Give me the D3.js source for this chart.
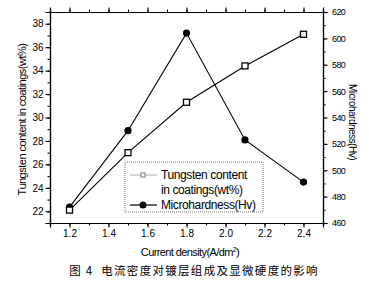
<!DOCTYPE html>
<html>
<head>
<meta charset="utf-8">
<script src="https://cdn.jsdelivr.net/npm/d3@7"></script>
<style>
  body { margin: 0; background: #fff; }
  svg text { font-family: "Liberation Sans", Arial, sans-serif; fill: #000; }
</style>
</head>
<body>
<div id="chart"></div>
<script>
// data
var currentDensity = [1.2, 1.5, 1.8, 2.1, 2.4];
var tungsten = [22.1, 27.0, 31.3, 34.4, 37.1];
var hardness = [472, 530, 604, 523, 491];

var xTicks = [1.2, 1.4, 1.6, 1.8, 2.0, 2.2, 2.4];
var leftTicks = [22, 24, 26, 28, 30, 32, 34, 36, 38];
var rightTicks = [460, 480, 500, 520, 540, 560, 580, 600, 620];

var svgWidth = 369;
var svgHeight = 281;

var margin = { top: 12, right: 46, bottom: 58, left: 50 };
var width = svgWidth - margin.left - margin.right;
var height = svgHeight - margin.top - margin.bottom;

var svg = d3.select("#chart").append("svg")
  .attr("width", svgWidth)
  .attr("height", svgHeight);

var chartGroup = svg.append("g")
  .attr("transform", `translate(${margin.left}, ${margin.top})`);

var xScale = d3.scaleLinear().domain([1.1, 2.5]).range([0, width]);
var yLeft = d3.scaleLinear().domain([21, 39]).range([height, 0]);
var yRight = d3.scaleLinear().domain([460, 620]).range([height, 0]);

// minor ticks (half steps)
function minors(scale, step) {
  var d = scale.domain(), out = [];
  for (var v = Math.ceil(d[0] / step) * step; v <= d[1] + 1e-9; v += step) out.push(+v.toFixed(3));
  return out;
}

// axes with minor ticks underneath
function drawAxis(axisFn, scale, ticks, minorStep, transform, fmt, fontSize) {
  var g = chartGroup.append("g").attr("transform", transform);
  g.call(axisFn(scale).tickValues(minors(scale, minorStep)).tickSize(2.5).tickFormat(""));
  var m = chartGroup.append("g").attr("transform", transform);
  m.call(axisFn(scale).tickValues(ticks).tickSize(4.5).tickPadding(2).tickFormat(fmt));
  [g, m].forEach(function(s) {
    s.select(".domain").attr("stroke", "#000").attr("stroke-width", 1.2);
    s.selectAll(".tick line").attr("stroke", "#000").attr("stroke-width", 1.1);
    s.selectAll("text").style("font-size", fontSize).attr("fill", "#000")
      .style("font-family", "'Liberation Sans', Arial, sans-serif");
  });
  return m;
}

drawAxis(d3.axisBottom, xScale, xTicks, 0.1, `translate(0, ${height})`, d3.format(".1f"), "10px");
drawAxis(d3.axisTop, xScale, xTicks, 0.1, "translate(0, 0)", "", "10px");
drawAxis(d3.axisLeft, yLeft, leftTicks, 1, "translate(0, 0)", d3.format("d"), "10px");
var rAx = drawAxis(d3.axisRight, yRight, rightTicks, 10, `translate(${width}, 0)`, d3.format("d"), "9px");
rAx.selectAll("text").attr("x", 9).style("letter-spacing", "-0.6px");

// lines
var lineT = d3.line().x((d, i) => xScale(currentDensity[i])).y(d => yLeft(d));
var lineH = d3.line().x((d, i) => xScale(currentDensity[i])).y(d => yRight(d));

chartGroup.append("path").datum(tungsten)
  .attr("d", lineT).attr("fill", "none").attr("stroke", "#000").attr("stroke-width", 1.1);
chartGroup.append("path").datum(hardness)
  .attr("d", lineH).attr("fill", "none").attr("stroke", "#000").attr("stroke-width", 1.1);

chartGroup.selectAll(".ptH").data(hardness).enter().append("circle")
  .attr("cx", (d, i) => xScale(currentDensity[i]))
  .attr("cy", d => yRight(d))
  .attr("r", 3.6)
  .attr("fill", "#000");

chartGroup.selectAll(".ptT").data(tungsten).enter().append("rect")
  .attr("x", (d, i) => xScale(currentDensity[i]) - 3)
  .attr("y", d => yLeft(d) - 3)
  .attr("width", 6).attr("height", 6)
  .attr("fill", "#fff").attr("stroke", "#000").attr("stroke-width", 1.3);

// legend
var legend = svg.append("g").attr("transform", "translate(125, 162)");
legend.append("rect").attr("width", 138).attr("height", 50)
  .attr("fill", "#fff").attr("stroke", "#777").attr("stroke-width", 1).attr("stroke-dasharray", "1,1");
legend.append("line").attr("x1", 5).attr("x2", 32).attr("y1", 13).attr("y2", 13)
  .attr("stroke", "#999").attr("stroke-width", 0.8);
legend.append("rect").attr("x", 16).attr("y", 11).attr("width", 4).attr("height", 4)
  .attr("fill", "#fff").attr("stroke", "#666").attr("stroke-width", 0.9);
legend.append("line").attr("x1", 5).attr("x2", 32).attr("y1", 43).attr("y2", 43)
  .attr("stroke", "#000").attr("stroke-width", 1.2);
legend.append("circle").attr("cx", 18).attr("cy", 43).attr("r", 3.5).attr("fill", "#000");
var legendLabels = ["Tungsten content", "in coatings(wt%)", "Microhardness(Hv)"];
legend.selectAll(".lbl").data(legendLabels).enter().append("text")
  .attr("x", 36).attr("y", (d, i) => 17 + i * 15)
  .style("font-size", "12px").style("letter-spacing", "-0.4px")
  .text(d => d);

// axis titles
svg.append("text")
  .attr("transform", `translate(26, ${margin.top + height / 2 + 2}) rotate(-90)`)
  .attr("text-anchor", "middle")
  .style("font-size", "11px").style("letter-spacing", "-0.5px")
  .text("Tungsten content in coatings(wt%)");

svg.append("text")
  .attr("transform", `translate(349, ${margin.top + 110}) rotate(90)`)
  .attr("text-anchor", "middle")
  .style("font-size", "10px").style("letter-spacing", "-0.5px")
  .text("Microhardness(Hv)");

var xt = svg.append("text")
  .attr("x", 190).attr("y", 256)
  .attr("text-anchor", "middle")
  .style("font-size", "11px").style("letter-spacing", "-0.6px");
xt.append("tspan").text("Current density(A/dm");
xt.append("tspan").attr("dy", -4).style("font-size", "7px").text("2");
xt.append("tspan").attr("dy", 4).text(")");

svg.append("text")
  .attr("x", 194).attr("y", 275)
  .attr("text-anchor", "middle")
  .attr("xml:space", "preserve")
  .style("white-space", "pre")
  .style("font-family", "'Noto Sans CJK SC', sans-serif")
  .style("font-size", "11.5px").style("letter-spacing", "1.3px").attr("fill", "#333")
  .text("图 4  电流密度对镀层组成及显微硬度的影响");
</script>
</body>
</html>
